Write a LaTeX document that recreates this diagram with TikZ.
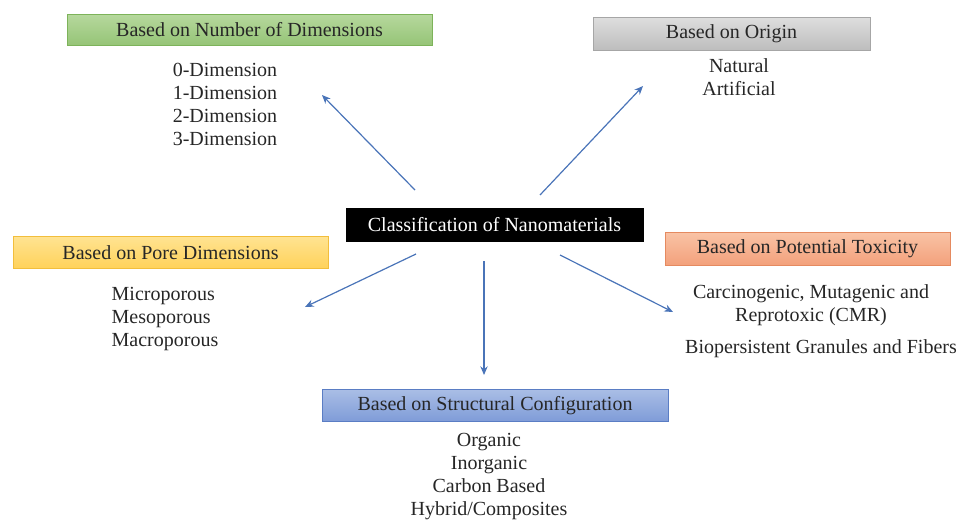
\documentclass[tikz,border=0pt]{standalone}
\usepackage{fontspec}
\setmainfont{Liberation Serif}
\usetikzlibrary{arrows.meta}
\definecolor{arrowblue}{HTML}{4A74B8}
\definecolor{gtop}{HTML}{B6D89D}\definecolor{gbot}{HTML}{95C476}\definecolor{gbrd}{HTML}{7DB35A}
\definecolor{stop}{HTML}{DDDDDD}\definecolor{sbot}{HTML}{BDBDBD}\definecolor{sbrd}{HTML}{A6A6A6}
\definecolor{ytop}{HTML}{FFE391}\definecolor{ybot}{HTML}{FFD25A}\definecolor{ybrd}{HTML}{F2BE3C}
\definecolor{otop}{HTML}{F9C3A5}\definecolor{obot}{HTML}{F3A07B}\definecolor{obrd}{HTML}{E58A60}
\definecolor{btop}{HTML}{A9BDE5}\definecolor{bbot}{HTML}{7F9CD8}\definecolor{bbrd}{HTML}{5A7DC4}
\tikzset{
  x=0.75pt, y=-0.75pt,
  every node/.style={font=\fontsize{15}{17.3}\selectfont, text=black!85},
  headbox/.style={draw, line width=0.6pt, inner sep=0pt, minimum height=23.5pt},
  listtext/.style={align=center, inner sep=0pt, anchor=north},
  link/.style={draw=arrowblue, line width=0.9pt, -{Stealth[length=6.5pt,width=5.5pt]}}
}
\begin{document}
\begin{tikzpicture}
\useasboundingbox (0,0) rectangle (962,522);
% header boxes
\node[headbox, top color=gtop, bottom color=gbot, draw=gbrd, minimum width=273.75pt] (dim) at (249.5,30) {Based on Number of Dimensions};
\node[headbox, top color=stop, bottom color=sbot, draw=sbrd, minimum width=207.75pt, minimum height=24.75pt] (ori) at (731.5,34) {Based on Origin};
\node[headbox, fill=black, draw=black, minimum width=222.75pt, minimum height=24.75pt, text=white] (cls) at (494.5,225) {Classification of Nanomaterials};
\node[headbox, top color=ytop, bottom color=ybot, draw=ybrd, minimum width=236.25pt] (pore) at (170.5,252.5) {Based on Pore Dimensions};
\node[headbox, top color=otop, bottom color=obot, draw=obrd, minimum width=213.75pt, minimum height=24.75pt] (tox) at (807.5,249) {Based on Potential Toxicity};
\node[headbox, top color=btop, bottom color=bbot, draw=bbrd, minimum width=259.5pt] (str) at (495,405.5) {Based on Structural Configuration};
% lists
\node[listtext] (dimlist) at (225,63) {0-Dimension\\1-Dimension\\2-Dimension\\3-Dimension};
\node[listtext] (orilist) at (739,58) {Natural\\Artificial};
\node[listtext, align=left] (porelist) at (165,287) {Microporous\\Mesoporous\\Macroporous};
\node[listtext] (toxlist) at (811,284) {Carcinogenic, Mutagenic and\\Reprotoxic (CMR)};
\node[listtext] (toxlist2) at (821,339) {Biopersistent Granules and Fibers};
\node[listtext] (strlist) at (489,433) {Organic\\Inorganic\\Carbon Based\\Hybrid/Composites};
% arrow end points
\coordinate (s1) at (415,190); \coordinate (e1) at (322,95);
\coordinate (s2) at (540,195); \coordinate (e2) at (643,86);
\coordinate (s3) at (416,254); \coordinate (e3) at (305,307);
\coordinate (s4) at (484,261); \coordinate (e4) at (484,375);
\coordinate (s5) at (560,255); \coordinate (e5) at (673,312);
\draw[link] (s1) -- (e1);
\draw[link] (s2) -- (e2);
\draw[link] (s3) -- (e3);
\draw[link] (s4) -- (e4);
\draw[link] (s5) -- (e5);
\end{tikzpicture}
\end{document}
